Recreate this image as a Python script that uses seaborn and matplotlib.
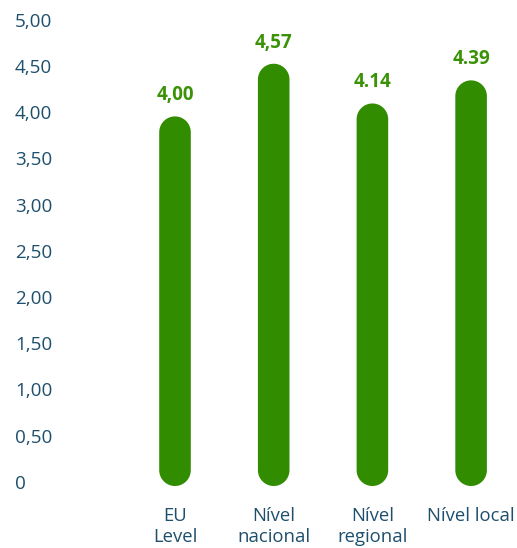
import matplotlib
matplotlib.use("Agg")
import matplotlib.pyplot as plt
from matplotlib.patches import Polygon
from matplotlib.ticker import FixedLocator, FixedFormatter
import matplotlib.transforms as mtransforms
import numpy as np
import seaborn as sns
import pandas as pd

# Data
categories = ["EU\nLevel", "Nível\nnacional", "Nível\nregional", "Nível local"]
values = [4.00, 4.57, 4.14, 4.39]
value_labels = ["4,00", "4,57", "4.14", "4.39"]
y_ticks = [0, 0.5, 1.0, 1.5, 2.0, 2.5, 3.0, 3.5, 4.0, 4.5, 5.0]
y_tick_labels = ["0", "0,50", "1,00", "1,50", "2,00", "2,50", "3,00", "3,50", "4,00", "4,50", "5,00"]

BAR_GREEN = "#318c00"
LABEL_GREEN = "#3a9306"
TEXT_BLUE = "#1e4f6c"

sns.set_theme(style="white")
plt.rcParams["font.family"] = ["Open Sans", "DejaVu Sans"]

W, H, DPI = 517, 548, 100
fig = plt.figure(figsize=(W / DPI, H / DPI), dpi=DPI)

# axes placed in pixel terms
left_px, right_px = 60, 510
top_px, bottom_px = 24, 486
ax = fig.add_axes([left_px / W, (H - bottom_px) / H,
                   (right_px - left_px) / W, (bottom_px - top_px) / H])

df = pd.DataFrame({"category": categories, "value": values})
sns.barplot(data=df, x="category", y="value", color=BAR_GREEN,
            width=0.32, saturation=1, ax=ax)

# category spacing of ~98.7 px, first bar centred near x=175
px_per_cat = 98.7
x0 = (left_px - 175) / px_per_cat
x1 = (right_px - 175) / px_per_cat
ax.set_xlim(x0, x1)
ax.set_ylim(0, 5)

# turn each rectangular bar into a capsule outline with semicircular ends
xdata_per_px = (x1 - x0) / (right_px - left_px)
ydata_per_px = 5 / (bottom_px - top_px)
t_top = np.linspace(0, np.pi, 40)
t_bot = np.linspace(np.pi, 2 * np.pi, 40)
bars = list(ax.patches)
for p in bars:
    x, y = p.get_x(), p.get_y()
    w, h = p.get_width(), p.get_height()
    p.remove()
    rx = w / 2
    ry = (rx / xdata_per_px) * ydata_per_px
    cx = x + rx
    top_c, bot_c = y + h - ry, y + ry
    xs = np.concatenate([cx + rx * np.cos(t_top), cx + rx * np.cos(t_bot)])
    ys = np.concatenate([top_c + ry * np.sin(t_top), bot_c + ry * np.sin(t_bot)])
    ax.add_patch(Polygon(np.column_stack([xs, ys]), closed=True,
                         facecolor=BAR_GREEN, edgecolor="none", clip_on=False))

# value labels above bars
for i, (v, lab) in enumerate(zip(values, value_labels)):
    ax.annotate(lab, xy=(i, v), xytext=(0, 8), textcoords="offset points",
                ha="center", va="bottom", fontsize=13.5, fontweight="bold",
                color=LABEL_GREEN)

# axis styling
for s in ax.spines.values():
    s.set_visible(False)
ax.set_xlabel("")
ax.set_ylabel("")
ax.yaxis.set_major_locator(FixedLocator(y_ticks))
ax.yaxis.set_major_formatter(FixedFormatter(y_tick_labels))
ax.tick_params(axis="y", length=0, pad=(left_px - 15) * 72 / DPI,
               labelsize=13.6, labelcolor=TEXT_BLUE)
for t in ax.get_yticklabels():
    t.set_horizontalalignment("left")
    t.set_transform(t.get_transform() + mtransforms.ScaledTranslation(0, 3 / 72, fig.dpi_scale_trans))
ax.tick_params(axis="x", length=0, pad=15, labelsize=13.3, labelcolor=TEXT_BLUE)
for t in ax.get_xticklabels():
    t.set_linespacing(1.2)

fig.savefig("out.png", dpi=DPI)
